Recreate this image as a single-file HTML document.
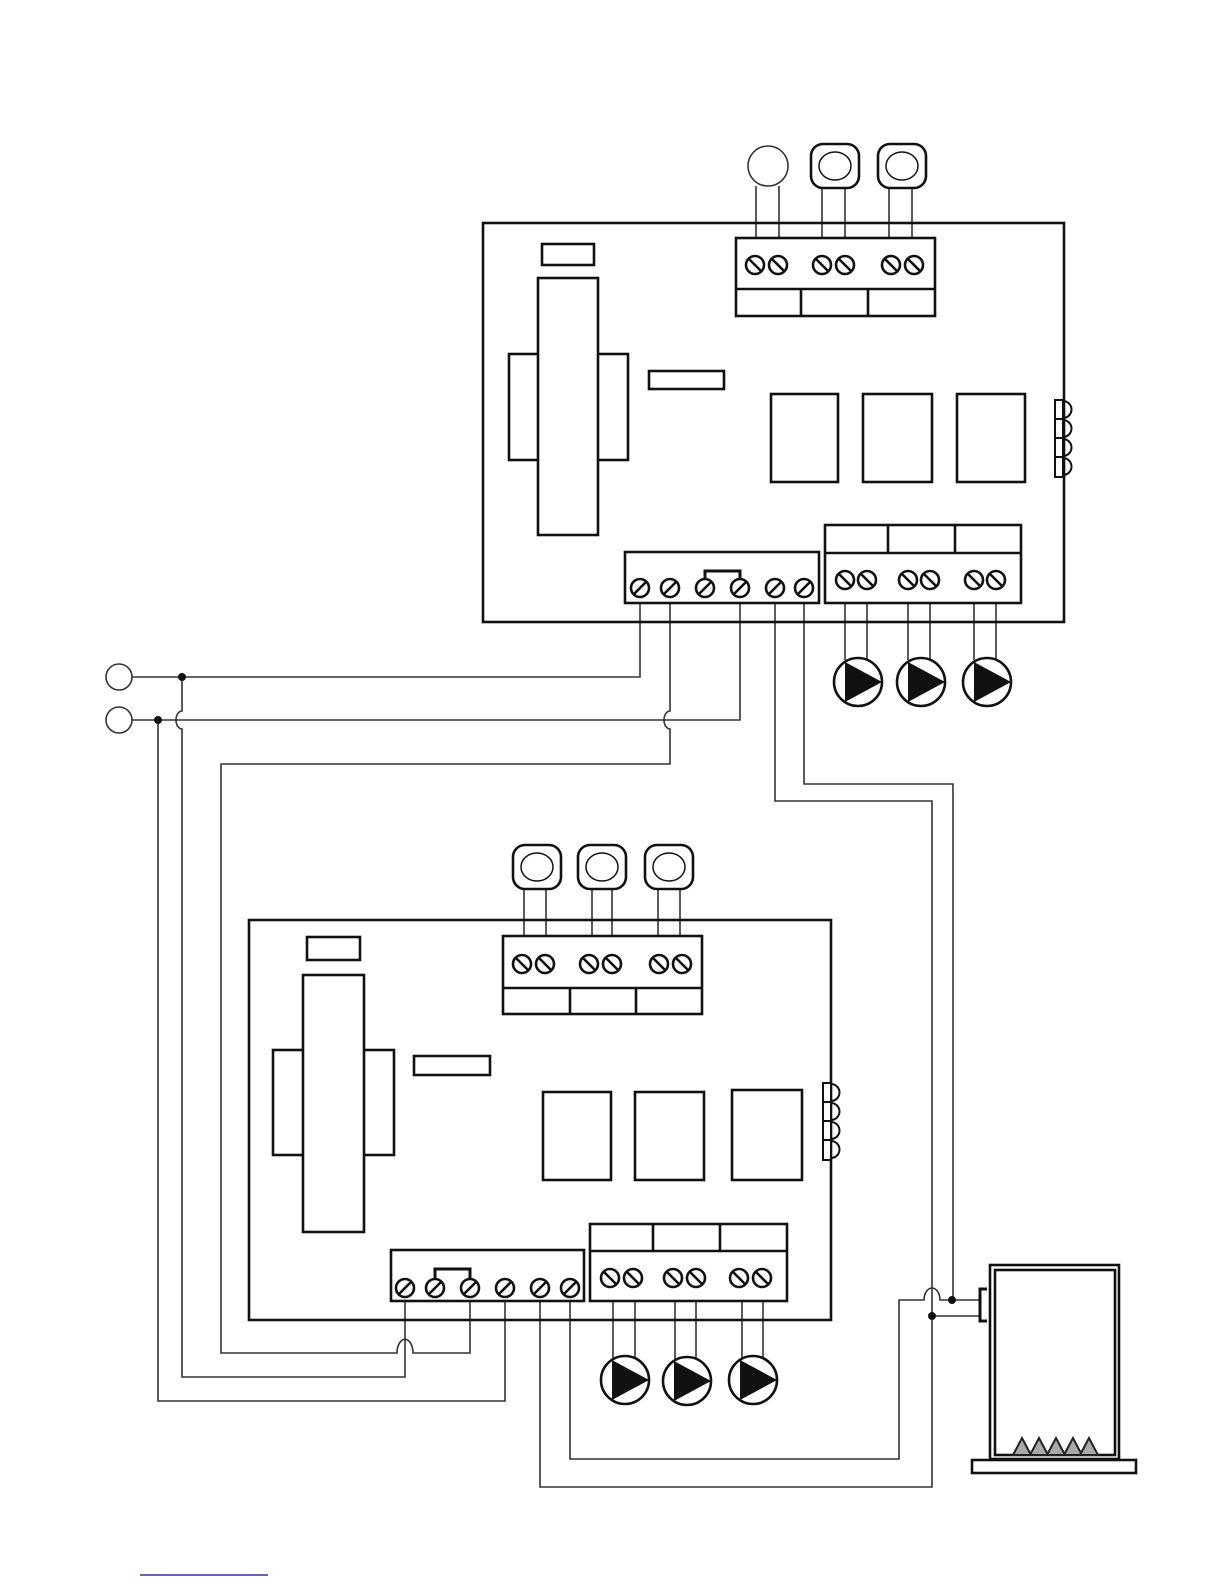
<!DOCTYPE html>
<html><head><meta charset="utf-8"><style>html,body{margin:0;padding:0;background:#fff}svg{display:block}</style></head>
<body>
<svg width="1224" height="1584" viewBox="0 0 1224 1584" xmlns="http://www.w3.org/2000/svg">
<defs>
<g id="sb"><circle r="9" fill="#fff" stroke="#111" stroke-width="2.6"/><line x1="-6" y1="-6" x2="6" y2="6" stroke="#111" stroke-width="2.6"/></g>
<g id="sf"><circle r="9" fill="#fff" stroke="#111" stroke-width="2.6"/><line x1="-6" y1="6" x2="6" y2="-6" stroke="#111" stroke-width="2.6"/></g>
<g id="pump"><circle r="24" fill="#fff" stroke="#111" stroke-width="2.6"/><polygon points="-13,-20 -13,20 24,0" fill="#111"/></g>
<g id="sq"><rect x="-24" y="-22" width="48" height="44" rx="12" fill="#fff" stroke="#111" stroke-width="2.6"/><ellipse rx="16" ry="14" fill="none" stroke="#111" stroke-width="1.5"/></g>
<g id="led"><rect x="0" y="0" width="8" height="77" fill="#fff" stroke="#111" stroke-width="2"/><line x1="0" y1="19" x2="8" y2="19" stroke="#111" stroke-width="2"/><line x1="0" y1="38" x2="8" y2="38" stroke="#111" stroke-width="2"/><line x1="0" y1="57" x2="8" y2="57" stroke="#111" stroke-width="2"/><path d="M8,1 a8.5,8.5 0 0 1 0,17 M8,20 a8.5,8.5 0 0 1 0,17 M8,39 a8.5,8.5 0 0 1 0,17 M8,58 a8.5,8.5 0 0 1 0,17" fill="none" stroke="#111" stroke-width="2"/></g>
</defs>

<g fill="none" stroke="#333" stroke-width="1.6">
<path d="M756,186V238M779,186V238M822,188V238M845,188V238M889,188V238M912,188V238"/>
<path d="M845,603V660M867,603V660M908,603V660M930,603V660M974,603V660M996,603V660"/>
<path d="M130,677H640V603"/>
<path d="M130,720H740V603"/>
<path d="M670,603V711 a6,9 0 0 0 0,18 V764H221V1353H397 a7,12 0 0 1 16,0 H470V1301"/>
<path d="M182,677V711 a6,9 0 0 0 0,18 V1377H405V1301"/>
<path d="M158,720V1401H505V1301"/>
<path d="M775,603V801H932V1487H540V1301"/>
<path d="M804,603V784H953V1300"/>
<path d="M570,1301V1459H899V1300H924 a8,12 0 0 1 16,0 H980"/>
<path d="M932,1316H980"/>
<path d="M524,888V936M546,888V936M592,888V936M612,888V936M658,888V936M680,888V936"/>
<path d="M613,1301V1360M635,1301V1360M675,1301V1360M696,1301V1360M742,1301V1360M763,1301V1360"/>
</g>
<circle cx="182" cy="677" r="4" fill="#111"/>
<circle cx="158" cy="720" r="4" fill="#111"/>
<circle cx="952" cy="1300" r="4" fill="#111"/>
<circle cx="932" cy="1316" r="4" fill="#111"/>
<circle cx="119" cy="677" r="13" fill="#fff" stroke="#333" stroke-width="1.6"/>
<circle cx="119" cy="720" r="13" fill="#fff" stroke="#333" stroke-width="1.6"/>

<g fill="#fff" stroke="#111" stroke-width="2.6">
<rect x="483" y="223" width="581" height="399" fill="none"/>
<rect x="542" y="244" width="52" height="21"/>
<rect x="509" y="354" width="119" height="106"/>
<rect x="538" y="278" width="60" height="257"/>
<rect x="649" y="371" width="75" height="18"/>
<rect x="771" y="394" width="67" height="88"/>
<rect x="863" y="394" width="69" height="88"/>
<rect x="957" y="394" width="68" height="88"/>
<rect x="736" y="238" width="199" height="78"/>
<path d="M736,289H935M801,289V316M868,289V316" fill="none"/>
<rect x="625" y="552" width="194" height="51"/>
<rect x="825" y="525" width="196" height="78"/>
<path d="M825,553H1021M888,525V553M955,525V553" fill="none"/>
<path d="M705,580V571H740V580" fill="none" stroke-width="3"/>
</g>
<use href="#led" x="1055" y="400"/>
<circle cx="768" cy="166" r="20" fill="#fff" stroke="#333" stroke-width="1.6"/>
<use href="#sq" x="835" y="166"/>
<use href="#sq" x="902" y="166"/>
<use href="#sb" x="755" y="265"/><use href="#sb" x="778" y="265"/>
<use href="#sb" x="822" y="265"/><use href="#sb" x="845" y="265"/>
<use href="#sb" x="891" y="265"/><use href="#sb" x="914" y="265"/>
<use href="#sf" x="640" y="588"/><use href="#sf" x="670" y="588"/>
<use href="#sf" x="705" y="588"/><use href="#sf" x="740" y="588"/>
<use href="#sf" x="775" y="588"/><use href="#sf" x="804" y="588"/>
<use href="#sb" x="845" y="580"/><use href="#sb" x="867" y="580"/>
<use href="#sb" x="908" y="580"/><use href="#sb" x="930" y="580"/>
<use href="#sb" x="974" y="580"/><use href="#sb" x="996" y="580"/>
<use href="#pump" x="858" y="682"/>
<use href="#pump" x="921" y="682"/>
<use href="#pump" x="987" y="682"/>

<g fill="#fff" stroke="#111" stroke-width="2.6">
<rect x="249" y="920" width="582" height="400" fill="none"/>
<rect x="307" y="937" width="53" height="23"/>
<rect x="273" y="1050" width="121" height="105"/>
<rect x="303" y="975" width="61" height="257"/>
<rect x="414" y="1056" width="76" height="19"/>
<rect x="543" y="1092" width="68" height="88"/>
<rect x="635" y="1092" width="69" height="88"/>
<rect x="732" y="1090" width="70" height="90"/>
<rect x="503" y="936" width="199" height="78"/>
<path d="M503,988H702M570,988V1014M636,988V1014" fill="none"/>
<rect x="391" y="1250" width="193" height="51"/>
<rect x="590" y="1224" width="197" height="77"/>
<path d="M590,1251H787M653,1224V1251M720,1224V1251" fill="none"/>
<path d="M435,1280V1269H470V1280" fill="none" stroke-width="3"/>
</g>
<use href="#led" x="823" y="1083"/>
<use href="#sq" x="537" y="867"/>
<use href="#sq" x="602" y="867"/>
<use href="#sq" x="669" y="867"/>
<use href="#sb" x="522" y="964"/><use href="#sb" x="545" y="964"/>
<use href="#sb" x="589" y="964"/><use href="#sb" x="612" y="964"/>
<use href="#sb" x="659" y="964"/><use href="#sb" x="682" y="964"/>
<use href="#sf" x="405" y="1288"/><use href="#sf" x="435" y="1288"/>
<use href="#sf" x="470" y="1288"/><use href="#sf" x="505" y="1288"/>
<use href="#sf" x="540" y="1288"/><use href="#sf" x="570" y="1288"/>
<use href="#sb" x="610" y="1278"/><use href="#sb" x="633" y="1278"/>
<use href="#sb" x="673" y="1278"/><use href="#sb" x="696" y="1278"/>
<use href="#sb" x="739" y="1278"/><use href="#sb" x="762" y="1278"/>
<use href="#pump" x="625" y="1380"/>
<use href="#pump" x="687" y="1381"/>
<use href="#pump" x="753" y="1380"/>

<g fill="#fff" stroke="#111" stroke-width="2.6">
<path d="M987,1289H980V1321H987" fill="none" stroke-width="3"/>
<rect x="990" y="1265" width="129" height="194"/>
<rect x="995" y="1270" width="120" height="185"/>
<rect x="972" y="1460" width="164" height="13"/>
</g>
<g fill="#aaa" stroke="#222" stroke-width="2">
<polygon points="1013,1455 1022,1438 1031,1455"/>
<polygon points="1030,1455 1039,1438 1048,1455"/>
<polygon points="1047,1455 1056,1438 1065,1455"/>
<polygon points="1064,1455 1073,1438 1082,1455"/>
<polygon points="1080,1455 1089,1438 1098,1455"/>
</g>

<line x1="140" y1="1575" x2="268" y2="1575" stroke="#33339a" stroke-width="1.5"/>
</svg>
</body></html>
